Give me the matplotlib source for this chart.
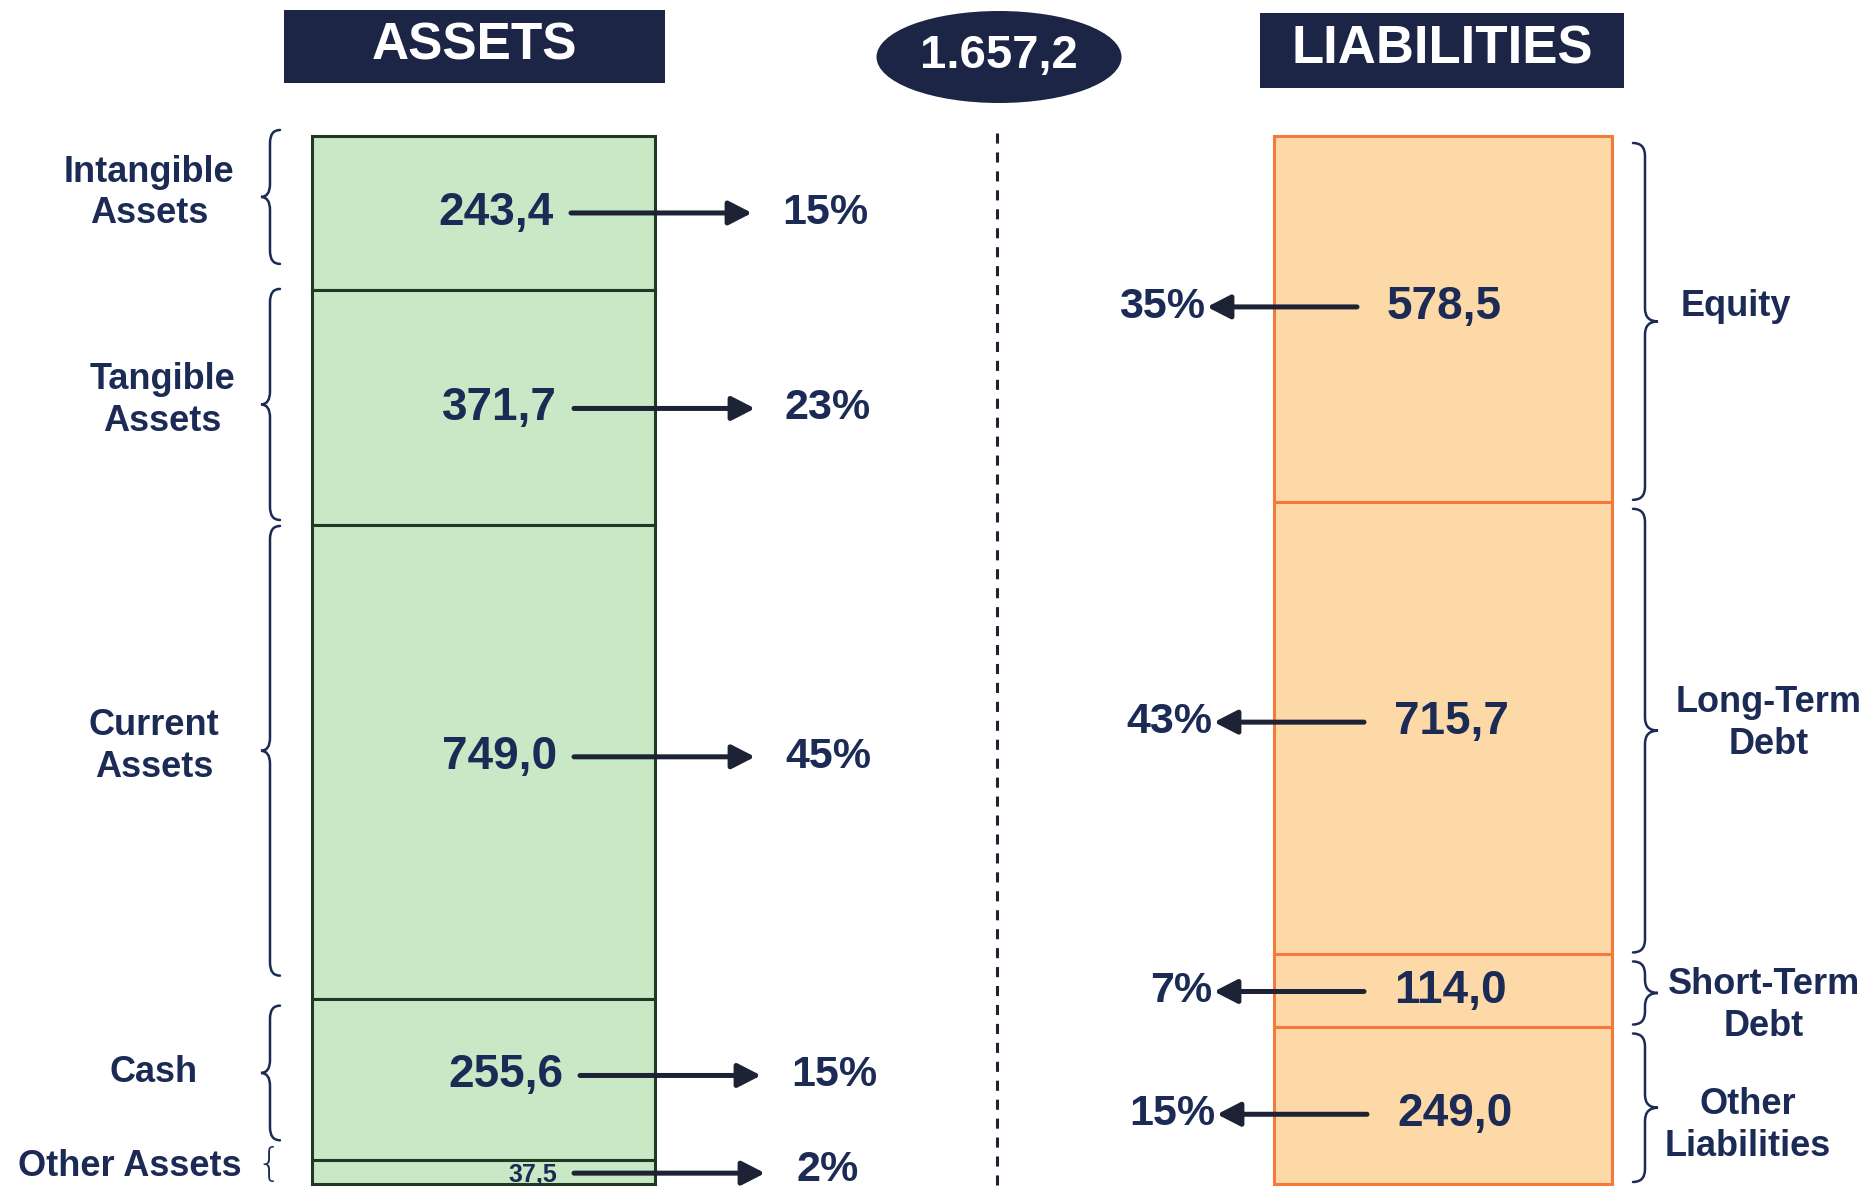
import matplotlib
matplotlib.use("Agg")
import matplotlib.pyplot as plt
from matplotlib.path import Path
from matplotlib.patches import PathPatch, Rectangle, Ellipse
import numpy as np

# ---------------- data ----------------
asset_names = ["Intangible\nAssets", "Tangible\nAssets", "Current\nAssets", "Cash", "Other Assets"]
asset_values = [243.4, 371.7, 749.0, 255.6, 37.5]
asset_labels = ["243,4", "371,7", "749,0", "255,6", "37,5"]
asset_pcts = ["15%", "23%", "45%", "15%", "2%"]

liab_names = ["Equity", "Long-Term\nDebt", "Short-Term\nDebt", "Other\nLiabilities"]
liab_values = [578.5, 715.7, 114.0, 249.0]
liab_labels = ["578,5", "715,7", "114,0", "249,0"]
liab_pcts = ["35%", "43%", "7%", "15%"]

total_label = "1.657,2"
total = 1657.2

# ---------------- style ----------------
W, H = 1870, 1188
NAVY = "#1b2b55"
HEAD = "#1c2545"
ARROW = "#1d2235"
GREEN = "#c9e8c6"
GREEN_EDGE = "#1f3a22"
ORANGE = "#fed9a8"
ORANGE_EDGE = "#f4793a"
FONT = "Liberation Sans"

BAR_TOP, BAR_BOT = 136, 1184
s = (BAR_BOT - BAR_TOP) / total  # pixels per unit

fig = plt.figure(figsize=(W / 100, H / 100), dpi=100)
fig.patch.set_facecolor("white")

# pixel overlay axes for decorations
axp = fig.add_axes([0, 0, 1, 1])
axp.set_xlim(0, W)
axp.set_ylim(H, 0)
axp.axis("off")

# data axes: x in pixels, y in value units (downwards)
ax = fig.add_axes([0, 0, 1, 1], facecolor="none")
ax.set_xlim(0, W)
ax.set_ylim((H - BAR_TOP) / s, -BAR_TOP / s)
ax.axis("off")


def pv(p):
    """pixel offset -> value units"""
    return p / s


# ---------------- headers ----------------
axp.add_patch(Rectangle((284, 10), 381, 73, facecolor=HEAD, edgecolor="none"))
axp.text(474, 46, "ASSETS", color="white", fontsize=37, fontweight="bold",
         family=FONT, ha="center", va="center")
axp.add_patch(Rectangle((1260, 13), 364, 75, facecolor=HEAD, edgecolor="none"))
axp.text(1442, 50, "LIABILITIES", color="white", fontsize=38, fontweight="bold",
         family=FONT, ha="center", va="center")
axp.add_patch(Ellipse((999, 57), 245, 92, facecolor=HEAD, edgecolor="none"))
axp.text(999, 56, total_label, color="white", fontsize=34, fontweight="bold",
         family=FONT, ha="center", va="center")

# dashed divider
axp.plot([997, 997], [133, 1195], color=ARROW, lw=2.2, ls=(0, (3.3, 2.9)))

# ---------------- bars ----------------
a_bottoms = np.concatenate([[0], np.cumsum(asset_values)[:-1]])
l_bottoms = np.concatenate([[0], np.cumsum(liab_values)[:-1]])
ax.bar([483.5] * len(asset_values), asset_values, bottom=a_bottoms, width=343,
       color=GREEN, edgecolor=GREEN_EDGE, linewidth=2.2, zorder=2)
ax.bar([1443] * len(liab_values), liab_values, bottom=l_bottoms, width=338,
       color=ORANGE, edgecolor=ORANGE_EDGE, linewidth=2.2, zorder=2)

a_mids = a_bottoms + np.array(asset_values) / 2
l_mids = l_bottoms + np.array(liab_values) / 2


def brace(y0, y1, xs, xe, xt, r_px=13, lw=1.8):
    r = pv(r_px)
    ym = (y0 + y1) / 2
    verts = [(xe, y0), (xs, y0), (xs, y0 + r), (xs, ym - r), (xs, ym), (xt, ym),
             (xs, ym), (xs, ym + r), (xs, y1 - r), (xs, y1), (xe, y1)]
    codes = [Path.MOVETO, Path.CURVE3, Path.CURVE3, Path.LINETO, Path.CURVE3, Path.CURVE3,
             Path.CURVE3, Path.CURVE3, Path.LINETO, Path.CURVE3, Path.CURVE3]
    ax.add_patch(PathPatch(Path(verts, codes), facecolor="none", edgecolor=NAVY,
                           lw=lw, zorder=3, capstyle="round"))


def arrow(x0, x1, y):
    ax.annotate("", xy=(x1, y), xytext=(x0, y),
                arrowprops=dict(arrowstyle="-|>,head_length=0.7,head_width=0.36",
                                color=ARROW, lw=3.6, shrinkA=0, shrinkB=0,
                                mutation_scale=20),
                zorder=4)


# ---------------- assets annotations ----------------
a_val_right = [554, 557, 557, 563, 557]
a_val_dy = [0, 1, -5, -4, 0]
a_name_x = [149, 162, 154, 154, 242]
a_name_dy = [-20, -7, -15, -7, -6]
a_brace_top = [-6, -1, 1, 7]
a_brace_bot = [-26, -5, -23, -20]

for i, (v, lab, pct, name) in enumerate(zip(asset_values, asset_labels, asset_pcts, asset_names)):
    y = a_mids[i] + pv(a_val_dy[i])
    xr = a_val_right[i]
    small = i == len(asset_values) - 1
    if small:
        ax.text(xr, a_bottoms[i] + v + pv(3), lab, color=NAVY, fontsize=18, fontweight="bold",
                family=FONT, ha="right", va="bottom", zorder=5)
        arrow(xr + 17, xr + 208, a_mids[i] + pv(1))
        ax.text(xr + 240, a_mids[i] + pv(-2), pct, color=NAVY, fontsize=31, fontweight="bold",
                family=FONT, ha="left", va="center", zorder=5)
        ax.text(a_name_x[i], a_mids[i] + pv(a_name_dy[i]), name, color=NAVY, fontsize=26,
                fontweight="bold", family=FONT, ha="right", va="center")
        ax.text(256, a_mids[i] + pv(-7), "{", color=NAVY, fontsize=28, family="DejaVu Sans",
                fontweight="light", ha="left", va="center")
    else:
        ax.text(xr, y, lab, color=NAVY, fontsize=33, fontweight="bold",
                family=FONT, ha="right", va="center", zorder=5)
        arrow(xr + 17, xr + 198, y)
        ax.text(xr + 228, y, pct, color=NAVY, fontsize=31, fontweight="bold",
                family=FONT, ha="left", va="center", zorder=5)
        ax.text(a_name_x[i], a_mids[i] + pv(a_name_dy[i]), name, color=NAVY, fontsize=26,
                fontweight="bold", family=FONT, ha="center", va="center", linespacing=1.25)
        brace(a_bottoms[i] + pv(a_brace_top[i]), a_bottoms[i] + v + pv(a_brace_bot[i]),
              xs=270, xe=280, xt=261)

# ---------------- liabilities annotations ----------------
l_val_left = [1387, 1394, 1394, 1397]
l_val_dy = [-12, -6, 1, 9]
l_name_x = [1736, 1769, 1764, 1748]
l_name_dy = [-12, -5, 15, 20]

for i, (v, lab, pct, name) in enumerate(zip(liab_values, liab_labels, liab_pcts, liab_names)):
    y = l_mids[i] + pv(l_val_dy[i])
    xl = l_val_left[i]
    ax.text(xl, y, lab, color=NAVY, fontsize=33, fontweight="bold",
            family=FONT, ha="left", va="center", zorder=5)
    arrow(xl - 30, xl - 180, y)
    ax.text(xl - 182, y, pct, color=NAVY, fontsize=31, fontweight="bold",
            family=FONT, ha="right", va="center", zorder=5)
    ax.text(l_name_x[i], l_mids[i] + pv(l_name_dy[i]), name, color=NAVY, fontsize=26,
            fontweight="bold", family=FONT, ha="center", va="center", linespacing=1.25)
    brace(l_bottoms[i] + pv(7), l_bottoms[i] + v - pv(2), xs=1645, xe=1633, xt=1658,
          r_px=min(13, v * s / 5))

fig.savefig("out.png", dpi=100, facecolor="white")
